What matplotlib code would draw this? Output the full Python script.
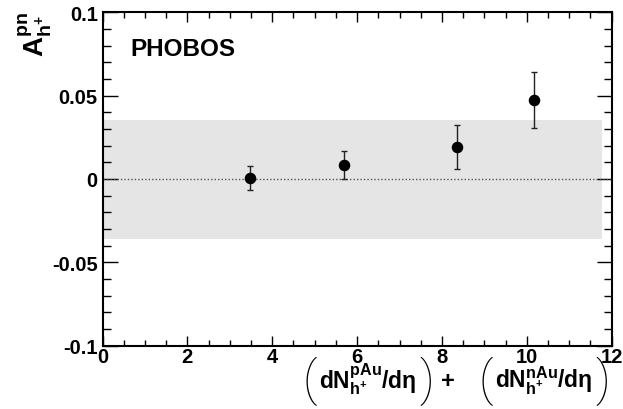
import matplotlib
matplotlib.use("Agg")
import matplotlib.pyplot as plt
from matplotlib.ticker import MultipleLocator

plt.rcParams['font.family'] = ['Liberation Sans', 'DejaVu Sans']
plt.rcParams['font.weight'] = 'bold'
plt.rcParams['mathtext.fontset'] = 'custom'
plt.rcParams['mathtext.rm'] = 'Liberation Sans:bold'
plt.rcParams['mathtext.it'] = 'Liberation Sans'
plt.rcParams['mathtext.bf'] = 'Liberation Sans:bold'
plt.rcParams['mathtext.sf'] = 'Liberation Sans:bold'

# Data
x_mult = [3.48, 5.70, 8.36, 10.17]
asym = [0.0004, 0.0083, 0.0192, 0.0474]
asym_err = [0.0072, 0.0082, 0.0134, 0.0169]
sys_band = [-0.0357, 0.0355]
band_x = [0.0, 11.78]
xlim = [0, 12]
ylim = [-0.1, 0.1]
yticks = [-0.1, -0.05, 0, 0.05, 0.1]
ytick_labels = ['-0.1', '-0.05', '0', '0.05', '0.1']
xticks = [0, 2, 4, 6, 8, 10, 12]
xtick_labels = ['0', '2', '4', '6', '8', '10', '12']

W, H = 623, 410
fig = plt.figure(figsize=(W / 100, H / 100), dpi=100)
l, r, b, t = 102.5, 611.7, 346.7, 13.3
ax = fig.add_axes([l / W, 1 - b / H, (r - l) / W, (b - t) / H])

ax.fill_between(band_x, sys_band[0], sys_band[1], color='#e5e5e5', lw=0, zorder=1)
ax.axhline(0, color='#555555', lw=1, ls=(0, (1, 1.5)), zorder=2)
ax.errorbar(x_mult, asym, yerr=asym_err, fmt='o', color='black', ms=7.3,
            ecolor='#222222', elinewidth=1, capsize=2.5, capthick=1, zorder=3)

ax.set_xlim(*xlim)
ax.set_ylim(*ylim)
ax.xaxis.set_minor_locator(MultipleLocator(0.5))
ax.yaxis.set_minor_locator(MultipleLocator(0.01))
ax.set_yticks(yticks)
ax.set_yticklabels(ytick_labels)
ax.set_xticks(xticks)
ax.set_xticklabels(xtick_labels)
ax.tick_params(which='both', direction='in', top=True, right=True, width=1)
ax.tick_params(axis='y', which='major', length=11, labelsize=14.5, pad=3.5)
ax.tick_params(axis='y', which='minor', length=6)
ax.tick_params(axis='x', which='major', length=7, labelsize=14.5, pad=1)
ax.tick_params(axis='x', which='minor', length=4)
for s in ax.spines.values():
    s.set_linewidth(1.5)
for lab in ax.get_xticklabels() + ax.get_yticklabels():
    lab.set_fontweight('bold')


def px(x, y):
    return x / W, 1 - y / H


fig.text(*px(130, 56.5), 'PHOBOS', fontsize=17.5, fontweight='bold',
         ha='left', va='baseline')

# y-axis title
fig.text(*px(17, 12), r'$\mathbf{A}^{\mathbf{pn}}_{\mathbf{h}^{+}}$', rotation=90,
         ha='left', va='top', fontsize=20)

# x-axis title built from pieces, laid out left to right
renderer = fig.canvas.get_renderer()
paren_kw = dict(family=['Roboto', 'DejaVu Sans'], fontweight=100, fontsize=35,
                va='center', ha='left', color='black')
paren_y = 381
base_y = 388.5
content1 = r'$\mathbf{dN}^{\mathbf{pAu}}_{\mathbf{h}^{+}}\mathbf{/d}\eta$'
content2 = r'$\mathbf{dN}^{\mathbf{nAu}}_{\mathbf{h}^{+}}\mathbf{/d}\eta$'


def right_px(txt):
    return txt.get_window_extent(renderer).x1


cur = 302
p1 = fig.text(*px(cur, paren_y), '(', **paren_kw)
c1 = fig.text(*px(cur + 17, base_y), content1, fontsize=16.5, ha='left', va='baseline')
cur = right_px(c1) + 3
p2 = fig.text(*px(cur, paren_y), ')', **paren_kw)
cur = right_px(p2) + 7
pl = fig.text(*px(cur, base_y), '+', fontsize=17, fontweight='bold', ha='left', va='baseline')
cur = right_px(pl) + 23
p3 = fig.text(*px(cur, paren_y), '(', **paren_kw)
c2 = fig.text(*px(cur + 17, base_y), content2, fontsize=16.5, ha='left', va='baseline')
cur = right_px(c2) + 3
p4 = fig.text(*px(cur, paren_y), ')', **paren_kw)

fig.savefig('out.png', dpi=100)
